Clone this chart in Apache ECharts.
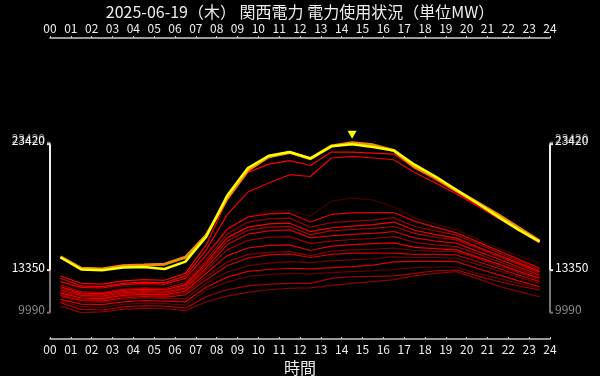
<!DOCTYPE html>
<html>
<head>
<meta charset="utf-8">
<script src="https://cdn.jsdelivr.net/npm/echarts@6/dist/echarts.min.js"></script>
<style>
  html, body { margin: 0; padding: 0; background: #000; }
  #chart { width: 600px; height: 376px; }
</style>
</head>
<body>
<div id="chart"></div>
<script>
const titleText = '2025-06-19（木） 関西電力 電力使用状況（単位MW）'
const hours = [0.5, 1.5, 2.5, 3.5, 4.5, 5.5, 6.5, 7.5, 8.5, 9.5, 10.5, 11.5,
  12.5, 13.5, 14.5, 15.5, 16.5, 17.5, 18.5, 19.5, 20.5, 21.5, 22.5, 23.5]

// 当日
const today = [14370, 13400, 13350, 13550, 13600, 13440, 14020, 16000, 19220, 21420, 22390, 22680,
  22180, 23130, 23300, 23080, 22810, 21680, 20750, 19700, 18650, 17580, 16530, 15600]
const forecast = [14400, 13500, 13450, 13700, 13750, 13820, 14370, 16100, 19000, 21250, 22300, 22650,
  22150, 23150, 23420, 23250, 22800, 21500, 20650, 19650, 18700, 17750, 16700, 15650]

// 過去の日
const high1 = [12890, 12310, 12250, 12500, 12600, 12550, 13100, 15340, 18910, 21070, 21730, 22000,
  21620, 22680, 22680, 22600, 22520, 21420, 20490, 19520, 18510, 17540, 16530, 15560]
const high2 = [12710, 12100, 12050, 12300, 12400, 12350, 12900, 14950, 17720, 19520, 20230, 20890,
  20750, 22210, 22340, 22210, 22070, 21070, 20230, 19380, 18430, 17460, 16500, 15500]
const faint = [12300, 11850, 11800, 12050, 12150, 12100, 12500, 14400, 16500, 17600, 18000, 18100,
  17600, 18800, 19040, 18900, 18330, 17500, 17000, 16530, 15800, 15100, 14500, 13900]
const mid1 = [12440, 11990, 11940, 12200, 12300, 12250, 12700, 14550, 16600, 17550, 17800, 17850,
  17150, 17750, 17880, 17900, 17900, 17200, 16750, 16300, 15600, 14900, 14200, 13500]
const mid2 = [12180, 11650, 11600, 11850, 11950, 11900, 12350, 14160, 16200, 17150, 17400, 17460,
  16750, 17100, 17220, 17300, 17500, 16800, 16450, 16140, 15450, 14750, 14050, 13350]
const mid3 = [12040, 11550, 11500, 11750, 11850, 11800, 12200, 13950, 15900, 16750, 17000, 17060,
  16400, 16700, 16820, 16950, 17150, 16500, 16150, 15880, 15200, 14550, 13900, 13230]
const mid4 = [11920, 11460, 11400, 11650, 11750, 11700, 12100, 13760, 15650, 16500, 16750, 16800,
  16150, 16450, 16560, 16650, 16800, 16250, 15950, 15740, 15100, 14450, 13800, 13100]
const mid5 = [11780, 11350, 11300, 11550, 11650, 11600, 11950, 13550, 15350, 16200, 16450, 16530,
  15900, 16050, 16170, 16250, 16400, 15900, 15650, 15480, 14850, 14250, 13600, 12970]
const mid6 = [11650, 11250, 11200, 11450, 11550, 11500, 11850, 13360, 14950, 15700, 15950, 16000,
  15450, 15650, 15770, 15850, 16000, 15550, 15350, 15210, 14650, 14050, 13450, 12830]
const mid7 = [11550, 11150, 11100, 11350, 11450, 11400, 11700, 13100, 14500, 15100, 15300, 15340,
  14900, 15250, 15370, 15450, 15500, 15150, 15050, 14950, 14400, 13850, 13250, 12710]
const mid8 = [11460, 11040, 11000, 11250, 11350, 11300, 11550, 12830, 14000, 14600, 14750, 14810,
  14500, 14850, 14950, 15000, 15100, 14900, 14850, 14810, 14300, 13700, 13150, 12570]
const mid9 = [11350, 10950, 10900, 11150, 11250, 11200, 11400, 12600, 13700, 14300, 14550, 14630,
  14350, 14600, 14690, 14700, 14700, 14600, 14600, 14550, 14050, 13500, 12950, 12450]
const low1 = [11250, 10850, 10800, 11050, 11150, 11100, 11100, 12310, 13200, 13700, 13900, 14020,
  13950, 14100, 14160, 14250, 14400, 14350, 14350, 14290, 13800, 13300, 12800, 12310]
const low2 = [11040, 10670, 10620, 10850, 10950, 10900, 10850, 12000, 12800, 13250, 13400, 13500,
  13450, 13550, 13630, 13750, 14000, 14050, 14050, 14020, 13500, 13000, 12500, 12040]
const low3 = [10900, 10460, 10400, 10650, 10750, 10700, 10600, 11780, 12400, 12850, 13000, 13100,
  13050, 13150, 13230, 13300, 13400, 13550, 13600, 13600, 13100, 12700, 12300, 11900]
const low4 = [10780, 10250, 10200, 10450, 10550, 10500, 10350, 11250, 11800, 12100, 12250, 12310,
  12300, 12700, 12830, 12850, 12900, 13100, 13300, 13360, 12900, 12450, 12100, 11780]
const low5 = [10510, 9990, 10050, 10250, 10350, 10300, 10150, 10850, 11300, 11600, 11800, 11920,
  11950, 12150, 12310, 12450, 12600, 12900, 13100, 13230, 12700, 12100, 11650, 11250]

const pastDays = [high1, high2, faint, mid1, mid2, mid3, mid4, mid5, mid6, mid7, mid8, mid9,
  low1, low2, low3, low4, low5]
const pastAlpha = [1, 0.95, 0.25, 0.9, 0.6, 0.95, 0.7, 0.85, 0.6, 0.9, 0.5, 0.8,
  0.45, 0.85, 0.4, 0.65, 0.55]

// 縦の範囲表示
const xEnds = [0, 24]
const rangeAll = [9990, 23420]
const rangeToday = [13350, 23300]
const yTickLabels = ['9990', '13350', '23420']

const font = '"Noto Sans CJK JP", "Noto Sans", sans-serif'
const chart = echarts.init(document.getElementById('chart'))

const toPoints = d => hours.map((h, i) => [h, d[i]])

const _xAxis = {
  type: 'value',
  min: 0,
  max: 24,
  interval: 1,
  splitLine: { show: false },
  axisLine: { lineStyle: { color: '#ccc', width: 1.5 } },
  axisTick: { length: 2, lineStyle: { color: '#ccc' } },
  axisLabel: {
    color: '#eee',
    fontSize: 12,
    fontFamily: font,
    margin: 4,
    formatter: v => String(v).padStart(2, '0')
  }
}

const series = pastDays.map((d, i) => ({
  type: 'line',
  data: toPoints(d),
  symbol: 'none',
  silent: true,
  z: 2,
  lineStyle: { color: 'rgba(255,0,0,' + pastAlpha[i] + ')', width: 1.2 }
}))

series.push({
  type: 'line',
  data: toPoints(forecast),
  symbol: 'none',
  silent: true,
  z: 3,
  lineStyle: { color: '#ee8c10', width: 3 },
  markPoint: {
    data: [{ type: 'max' }],
    symbol: 'triangle',
    symbolRotate: 180,
    symbolSize: [9, 8],
    symbolOffset: [0, -8],
    itemStyle: { color: '#ffff00' },
    label: { show: false }
  }
})

series.push({
  type: 'line',
  data: toPoints(today),
  symbol: 'none',
  silent: true,
  z: 4,
  lineStyle: { color: '#ffff00', width: 2.5 }
})

// 左右の範囲ブラケット
series.push({
  type: 'custom',
  coordinateSystem: 'cartesian2d',
  clip: false,
  silent: true,
  z: 10,
  data: [[0, rangeAll[0]]],
  renderItem(params, api) {
    const children = []
    xEnds.forEach((xv, k) => {
      const dir = k === 0 ? -1 : 1
      const bracket = (range, color) => {
        const p0 = api.coord([xv, range[0]])
        const p1 = api.coord([xv, range[1]])
        const st = { stroke: color, lineWidth: 2 }
        children.push({ type: 'line', shape: { x1: p0[0], y1: p0[1], x2: p1[0], y2: p1[1] }, style: st })
        children.push({ type: 'line', shape: { x1: p0[0], y1: p0[1], x2: p0[0] + dir * 3, y2: p0[1] }, style: st })
        children.push({ type: 'line', shape: { x1: p1[0], y1: p1[1], x2: p1[0] + dir * 3, y2: p1[1] }, style: st })
      }
      bracket(rangeAll, '#777')
      bracket(rangeToday, '#eee')

      const label = (value, text, color, dy) => {
        const p = api.coord([xv, value])
        children.push({
          type: 'text',
          style: {
            text: text,
            x: p[0] + dir * 5,
            y: p[1] - 3 + dy,
            fill: color,
            font: '12px ' + font,
            align: k === 0 ? 'right' : 'left',
            verticalAlign: 'middle'
          }
        })
      }
      label(rangeAll[0], yTickLabels[0], '#8c8c8c', 0)
      label(rangeAll[1], yTickLabels[2], '#8c8c8c', -1)
      label(rangeToday[0], yTickLabels[1], '#fff', 0)
      label(rangeAll[1], yTickLabels[2], '#fff', 1)
    })
    return { type: 'group', children }
  }
})

const option = {
  backgroundColor: '#000',
  animation: false,
  title: {
    text: titleText,
    left: 'center',
    top: -1,
    textStyle: { color: '#eee', fontSize: 16, fontWeight: 'normal', fontFamily: font }
  },
  grid: { left: 50, right: 50, top: 38, bottom: 37, outerBoundsMode: 'none' },
  xAxis: [
    {
      ..._xAxis,
      axisTick: { ..._xAxis.axisTick, inside: true },
      name: '時間',
      nameLocation: 'middle',
      nameGap: 20,
      nameTextStyle: { color: '#eee', fontSize: 16, fontFamily: font }
    },
    { ..._xAxis, position: 'top' }
  ],
  yAxis: {
    type: 'value',
    min: 7910,
    max: 31690,
    show: false
  },
  series
}

chart.setOption(option)
</script>
</body>
</html>
